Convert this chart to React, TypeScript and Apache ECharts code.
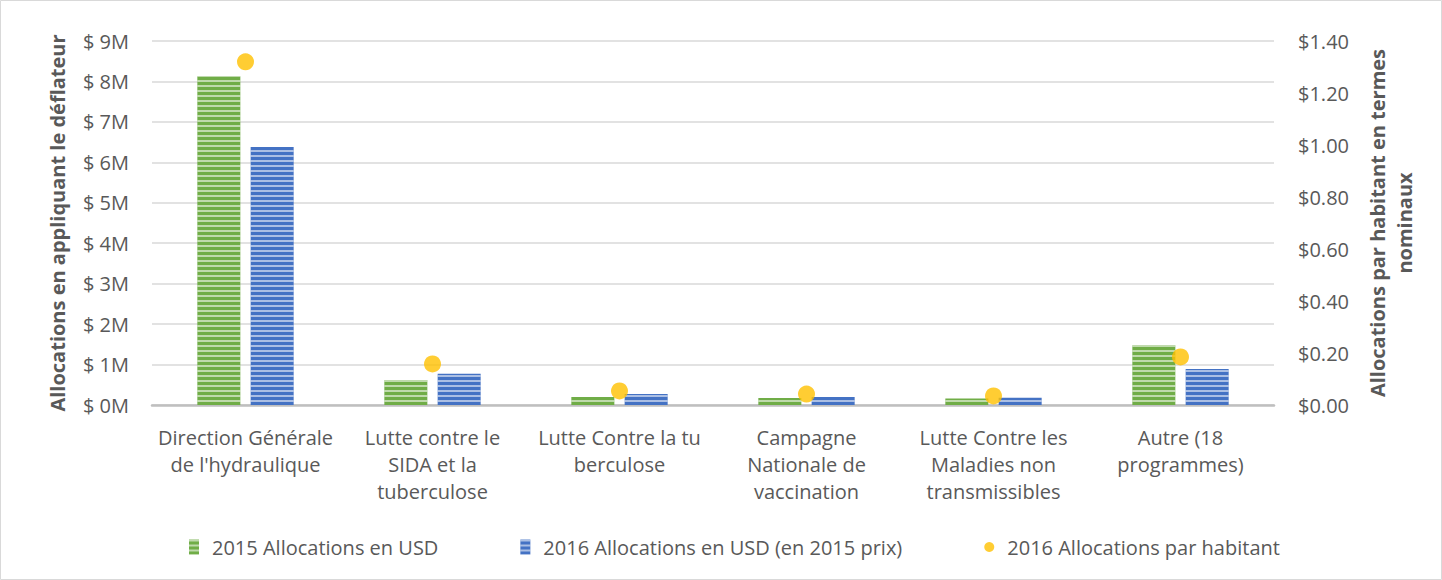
import React, { useEffect, useRef } from "react";
import * as echarts from "echarts";

const categories = [
  "Direction Générale\nde l'hydraulique",
  "Lutte contre le\nSIDA et la\ntuberculose",
  "Lutte Contre la tu\nberculose",
  "Campagne\nNationale de\nvaccination",
  "Lutte Contre les\nMaladies non\ntransmissibles",
  "Autre (18\nprogrammes)",
];
const alloc2015 = [8.13, 0.62, 0.2, 0.17, 0.16, 1.48];
const alloc2016 = [6.38, 0.77, 0.27, 0.2, 0.18, 0.89];
const perCapita2016 = [1.32, 0.158, 0.054, 0.042, 0.035, 0.185];
const seriesNames = [
  "2015 Allocations en USD",
  "2016 Allocations en USD (en 2015 prix)",
  "2016 Allocations par habitant",
];

const FONT = "'Open Sans', 'Noto Sans', sans-serif";
const GREY = "#595959";
const FS = 20;

const stripe = {
  symbol: "rect",
  color: "rgba(255,255,255,0.55)",
  dashArrayX: [1, 0],
  dashArrayY: [2, 3],
  rotation: 0,
  symbolSize: 1,
};

export default function App() {
  const ref = useRef<HTMLDivElement>(null);
  useEffect(() => {
    const chart = echarts.init(ref.current!, null, { renderer: "svg" });
    chart.setOption({
      animation: false,
      backgroundColor: "#fff",
      textStyle: { fontFamily: FONT },
      graphic: [
        {
          type: "rect",
          shape: { x: 0.5, y: 0.5, width: 1441, height: 579 },
          style: { fill: "none", stroke: "#d9d9d9", lineWidth: 1 },
          silent: true,
        },
      ],
      grid: { left: 152, right: 168, top: 41, bottom: 175, containLabel: false },
      legend: {
        top: 532,
        left: 184,
        itemGap: 82,
        itemWidth: 10,
        itemHeight: 15,
        textStyle: { fontSize: FS, color: GREY, fontFamily: FONT, padding: [0, 0, 0, 8] },
        data: [
          { name: seriesNames[0], icon: "rect" },
          { name: seriesNames[1], icon: "rect" },
          { name: seriesNames[2], icon: "circle" },
        ],
      },
      xAxis: {
        type: "category",
        data: categories,
        axisTick: { show: false },
        axisLine: { lineStyle: { color: "#bfbfbf", width: 2.5 } },
        axisLabel: {
          interval: 0,
          fontSize: FS,
          color: GREY,
          lineHeight: 27,
          margin: 19,
          fontFamily: FONT,
        },
      },
      yAxis: [
        {
          type: "value",
          min: 0,
          max: 9,
          interval: 1,
          name: "Allocations en appliquant le déflateur",
          nameLocation: "middle",
          nameGap: 85,
          nameTextStyle: { fontSize: FS, fontWeight: "bold", color: GREY, fontFamily: FONT },
          axisLabel: {
            fontSize: FS,
            color: GREY,
            margin: 23,
            formatter: (v: number) => `$ ${v}M`,
          },
          splitLine: { lineStyle: { color: "#d9d9d9", width: 1.5 } },
          axisLine: { show: false },
          axisTick: { show: false },
        },
        {
          type: "value",
          min: 0,
          max: 1.4,
          interval: 0.2,
          name: "Allocations par habitant en termes\nnominaux",
          nameLocation: "middle",
          nameGap: 90,
          nameRotate: 90,
          nameTextStyle: {
            fontSize: FS,
            fontWeight: "bold",
            color: GREY,
            lineHeight: 27,
            fontFamily: FONT,
          },
          axisLabel: {
            fontSize: FS,
            color: GREY,
            margin: 24,
            formatter: (v: number) => `$${v.toFixed(2)}`,
          },
          splitLine: { show: false },
          axisLine: { show: false },
          axisTick: { show: false },
        },
      ],
      series: [
        {
          name: seriesNames[0],
          type: "bar",
          data: alloc2015,
          barWidth: 43,
          barGap: "24%",
          itemStyle: { color: "#70ad47", decal: stripe },
        },
        {
          name: seriesNames[1],
          type: "bar",
          data: alloc2016,
          barWidth: 43,
          itemStyle: { color: "#4472c4", decal: stripe },
        },
        {
          name: seriesNames[2],
          type: "scatter",
          yAxisIndex: 1,
          data: perCapita2016,
          symbolSize: 17,
          itemStyle: { color: "#ffc000" },
          z: 5,
        },
      ],
    });
    return () => chart.dispose();
  }, []);
  return (
    <div
      ref={ref}
      style={{ position: "fixed", left: 0, top: 0, width: 1442, height: 580 }}
    />
  );
}
